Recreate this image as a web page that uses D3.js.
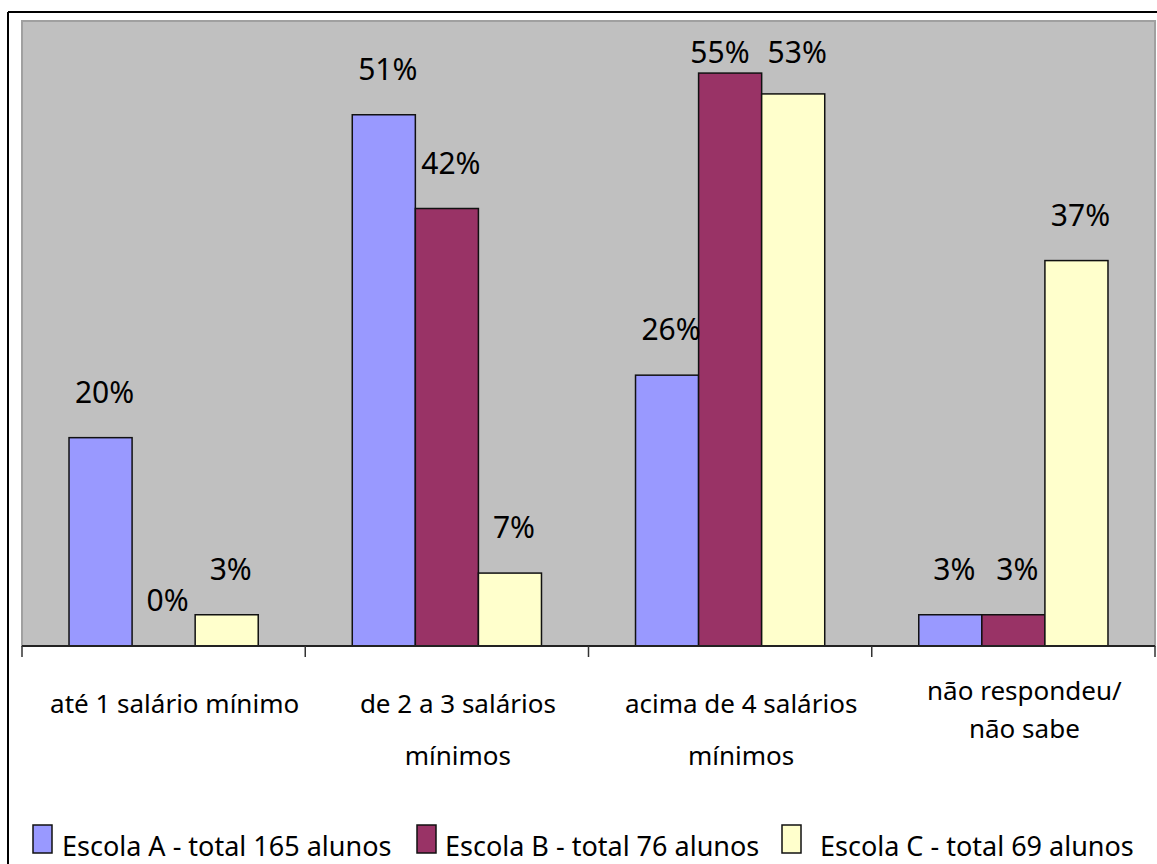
<!DOCTYPE html>
<html>
<head>
<meta charset="utf-8">
<script src="https://cdn.jsdelivr.net/npm/d3@7"></script>
<style>
  html, body { margin: 0; padding: 0; background: #fff; }
  svg { display: block; }
  text { font-family: "Noto Sans", "DejaVu Sans", sans-serif; fill: #000; }
</style>
</head>
<body>
<svg id="chart" width="1157" height="864"></svg>
<script>
// ---- data ----
const categories = ["até 1 salário mínimo", "de 2 a 3 salários mínimos", "acima de 4 salários mínimos", "não respondeu/ não sabe"];
const categoryLines = [
  ["até 1 salário mínimo"],
  ["de 2 a 3 salários", "mínimos"],
  ["acima de 4 salários", "mínimos"],
  ["não respondeu/", "não sabe"]
];
const seriesNames = ["Escola A - total 165 alunos", "Escola B - total 76 alunos", "Escola C - total 69 alunos"];
const escolaA = [20, 51, 26, 3];
const escolaB = [0, 42, 55, 3];
const escolaC = [3, 7, 53, 37];
const colors = ["#9999ff", "#993366", "#ffffcc"];

const seriesValues = [escolaA, escolaB, escolaC];

// ---- layout ----
const svg = d3.select("#chart");
const plot = { left: 22, right: 1155, top: 21, bottom: 646 };

// outer frame
svg.append("line").attr("x1", 8).attr("x2", 8).attr("y1", 12).attr("y2", 864)
  .attr("stroke", "#000").attr("stroke-width", 2);
svg.append("line").attr("x1", 8).attr("x2", 1157).attr("y1", 12).attr("y2", 12)
  .attr("stroke", "#000").attr("stroke-width", 2);

// plot area
svg.append("rect")
  .attr("x", plot.left).attr("y", plot.top)
  .attr("width", plot.right - plot.left).attr("height", plot.bottom - plot.top)
  .attr("fill", "#c0c0c0").attr("stroke", "#a0a0a0").attr("stroke-width", 2);

const x0 = d3.scaleBand().domain(d3.range(categories.length))
  .range([plot.left, plot.right]).paddingInner(0.332).paddingOuter(0.166);
const x1 = d3.scaleBand().domain(d3.range(seriesNames.length))
  .range([0, x0.bandwidth()]);
const y = d3.scaleLinear().domain([0, 60]).range([plot.bottom, plot.top]);

// bars
seriesValues.forEach((vals, si) => {
  svg.append("g").selectAll("rect").data(vals).join("rect")
    .attr("x", (d, i) => x0(i) + x1(si))
    .attr("y", d => y(d))
    .attr("width", x1.bandwidth())
    .attr("height", d => y(0) - y(d))
    .attr("fill", colors[si])
    .attr("stroke", "#111").attr("stroke-width", 1.5);
});

// value labels
const labelNodes = [];
seriesValues.forEach((vals, si) => {
  svg.append("g").selectAll("text").data(vals).join("text")
    .attr("x", (d, i) => x0(i) + x1(si) + x1.bandwidth() / 2 + 4)
    .attr("y", d => Math.max(y(d) - 35, 63))
    .attr("text-anchor", "middle")
    .attr("font-size", "30px")
    .text(d => d + "%")
    .each(function (d, i) { labelNodes.push({ node: this, cat: i, si }); });
});
// resolve overlaps between neighbouring labels in the same category
for (let c = 0; c < categories.length; c++) {
  const grp = labelNodes.filter(l => l.cat === c).sort((a, b) => b.si - a.si);
  for (let k = 1; k < grp.length; k++) {
    const right = grp[k - 1].node.getBBox();
    const leftSel = d3.select(grp[k].node);
    const left = grp[k].node.getBBox();
    const vOverlap = !(left.y + left.height < right.y || right.y + right.height < left.y);
    const overlap = left.x + left.width + 18 - right.x;
    if (vOverlap && overlap > 0) {
      leftSel.attr("x", +leftSel.attr("x") - overlap);
    }
  }
}

// x axis
const xTicks = d3.scaleLinear().domain([0, categories.length]).range([plot.left, plot.right]);
svg.append("line").attr("x1", plot.left).attr("x2", plot.right)
  .attr("y1", plot.bottom).attr("y2", plot.bottom)
  .attr("stroke", "#222").attr("stroke-width", 2);
svg.append("g").selectAll("line").data(d3.range(categories.length + 1)).join("line")
  .attr("x1", d => xTicks(d)).attr("x2", d => xTicks(d))
  .attr("y1", plot.bottom).attr("y2", plot.bottom + 11)
  .attr("stroke", "#333").attr("stroke-width", 1.5);

// category labels
categoryLines.forEach((lines, i) => {
  const cx = x0(i) + x0.bandwidth() / 2 + 11;
  const compact = i === 3;
  const first = compact ? 700 : 713;
  const step = compact ? 38 : 52;
  lines.forEach((ln, li) => {
    svg.append("text")
      .attr("x", cx).attr("y", first + li * step)
      .attr("text-anchor", "middle").attr("font-size", "26px")
      .text(ln);
  });
});

// legend
const legendX = [33, 417, 782];
const legendTextX = [62, 445, 820];
seriesNames.forEach((name, si) => {
  svg.append("rect").attr("x", legendX[si]).attr("y", 825)
    .attr("width", 19).attr("height", 28)
    .attr("fill", colors[si]).attr("stroke", "#111").attr("stroke-width", 1.5);
  svg.append("text").attr("x", legendTextX[si]).attr("y", 856)
    .attr("font-size", "27px").text(name);
});
</script>
</body>
</html>
